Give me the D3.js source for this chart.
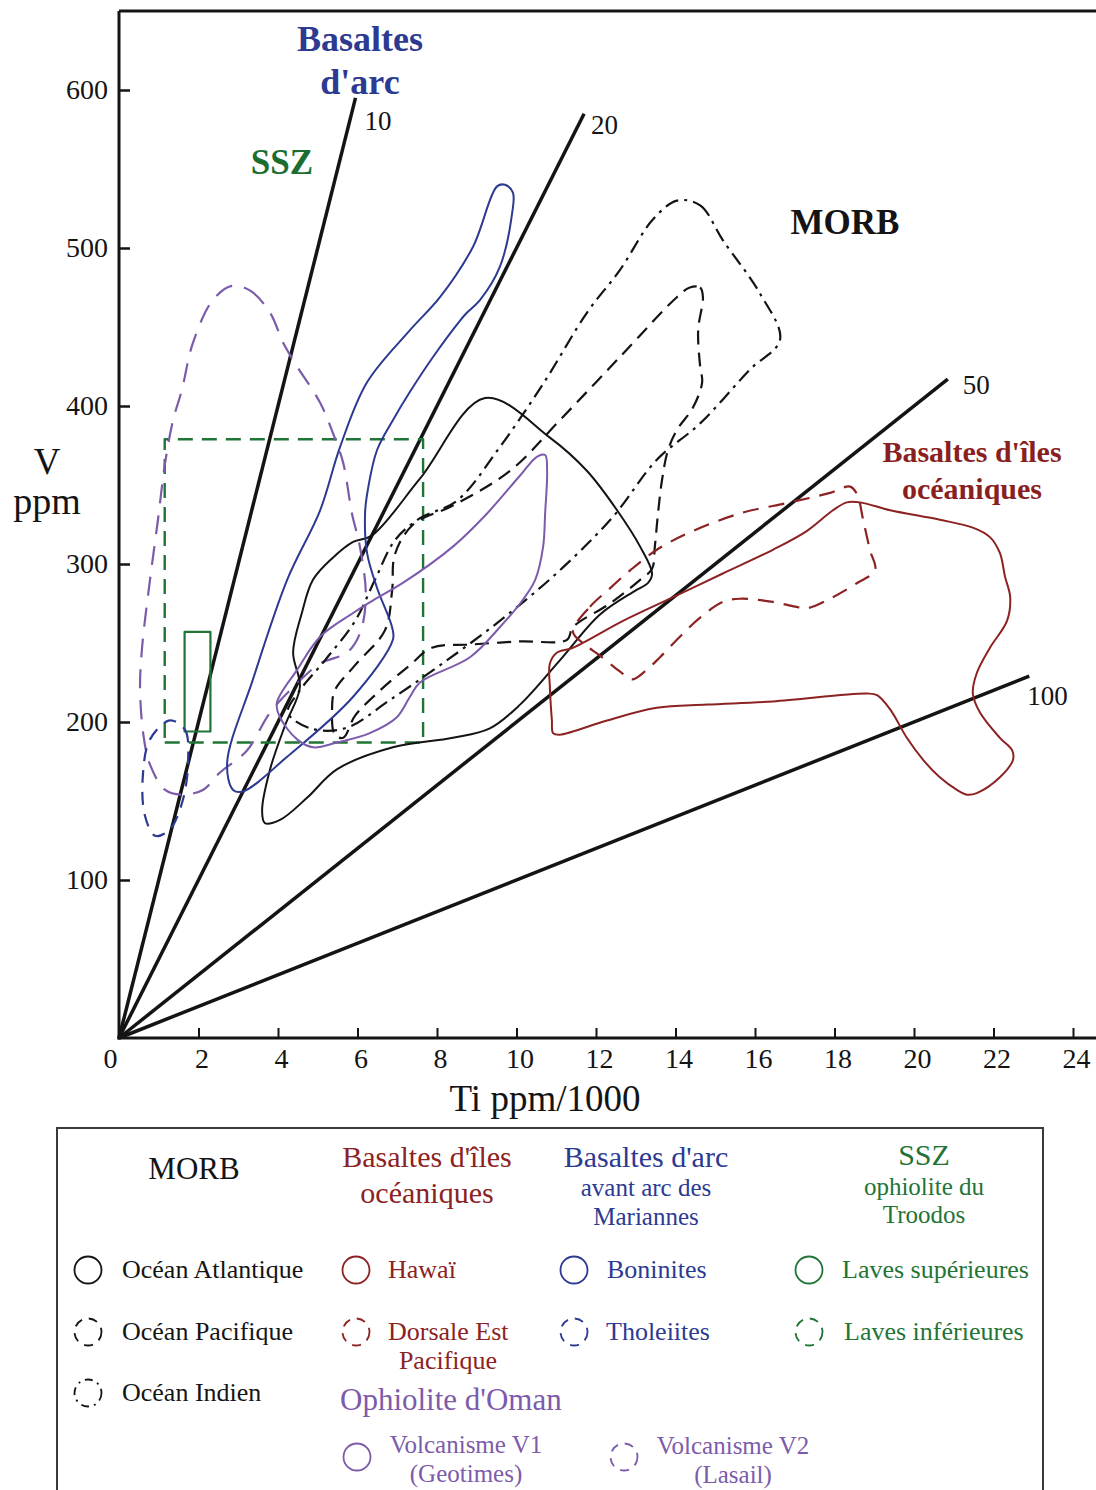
<!DOCTYPE html>
<html>
<head>
<meta charset="utf-8">
<script src="https://cdn.jsdelivr.net/npm/d3@7/dist/d3.min.js"></script>
<style>
html,body{margin:0;padding:0;background:#fff;}
svg{display:block;font-family:"Liberation Serif","DejaVu Serif",serif;}
</style>
</head>
<body>
<svg id="chart" width="1096" height="1490"></svg>
<script>
// ---------- DATA (Ti ppm/1000, V ppm) ----------
const xTicks = [0, 2, 4, 6, 8, 10, 12, 14, 16, 18, 20, 22, 24];
const yTicks = [100, 200, 300, 400, 500, 600];
const ratioValues = [10, 20, 50, 100];          // Ti/V ratio lines
const ratioEndTi  = [5.95, 11.7, 20.85, 22.9];  // Ti where each line stops

const morbAtlantique = [[9.21,405],[10.84,380],[11.77,359],[12.53,334],[13.11,311],[13.41,294],[13.31,288],[12.98,283],[12.10,268],[11.09,239],[10.09,211],[9.33,196],[8.40,190],[6.89,184],[5.48,170],[4.73,152],[4.05,138],[3.67,136],[3.60,144],[3.80,170],[4.18,198],[4.55,222],[4.38,244],[4.60,269],[4.88,290],[5.38,304],[5.89,314],[6.36,318],[7.57,354]];
const morbPacifique = [[14.36,475],[14.62,475],[14.69,469],[14.57,448],[14.62,425],[14.67,415],[14.44,399],[14.04,385],[13.81,372],[13.66,353],[13.56,332],[13.48,311],[13.41,297],[13.11,290],[12.35,275],[11.42,260],[11.27,252],[10.09,251],[8.83,249],[7.87,247],[7.32,236],[6.57,220],[5.94,204],[5.64,190],[5.43,192],[5.36,208],[5.43,220],[5.94,236],[6.69,258],[6.87,283],[6.94,306],[7.40,325],[8.40,337],[9.84,359],[11.09,391],[12.60,431],[14.04,469]];
const morbIndien = [[14.04,530],[14.62,527],[15.19,505],[16.13,471],[16.63,442],[15.87,423],[14.62,389],[13.53,366],[12.43,330],[11.09,296],[9.58,264],[8.08,236],[6.82,214],[5.69,196],[4.81,196],[4.25,206],[4.55,220],[5.18,239],[5.94,264],[6.44,290],[6.94,315],[7.57,329],[8.50,340],[9.58,374],[10.67,414],[11.77,459],[12.60,486],[13.43,518]];
const hawai = [[10.92,193],[11.09,192],[12.28,201],[13.53,209],[14.79,211],[16.45,213],[18.82,218],[19.07,217],[19.40,208],[19.82,190],[20.23,176],[20.65,165],[21.08,157],[21.33,154],[21.58,155],[22.16,165],[22.49,176],[22.47,182],[22.16,190],[21.66,206],[21.48,218],[21.58,231],[21.91,247],[22.34,264],[22.42,279],[22.29,292],[22.16,307],[21.91,317],[21.48,323],[20.65,328],[19.40,334],[18.64,339],[18.31,339],[17.96,334],[17.31,321],[16.45,309],[15.19,294],[13.94,279],[12.68,264],[11.42,247],[11.02,244],[10.84,237],[10.84,222],[10.89,201]];
const dorsaleEstPacifique = [[11.42,257],[11.85,273],[12.28,283],[12.86,296],[13.53,309],[14.36,320],[15.62,332],[16.88,339],[17.89,345],[18.39,349],[18.57,344],[18.72,328],[18.89,309],[19.02,296],[18.57,288],[17.96,279],[17.31,272],[17.01,273],[16.45,276],[15.62,278],[15.19,276],[14.62,266],[14.11,254],[13.61,241],[13.23,232],[12.91,227],[12.60,232],[12.10,242],[11.72,249]];
const boninites = [[9.71,540],[9.91,535],[9.89,522],[9.58,488],[9.08,467],[8.75,459],[8.58,454],[7.90,431],[7.32,409],[6.89,391],[6.49,372],[6.26,347],[6.19,332],[6.24,307],[6.49,285],[6.87,260],[6.89,252],[5.89,216],[4.23,178],[3.12,156],[2.87,157],[2.72,174],[3.37,227],[4.23,290],[5.06,334],[5.56,374],[6.24,415],[7.32,448],[8.08,469],[8.91,501],[9.51,539]];
const tholeiites = [[1.28,201],[1.66,195],[1.74,176],[1.61,151],[1.28,132],[0.91,128],[0.65,141],[0.60,166],[0.78,189]];
const lavesSuperieures = [[1.65,194],[2.30,194],[2.30,257],[1.65,257]];
const lavesInferieures = [[1.15,187],[7.65,187],[7.65,379],[1.15,379]];
const volcanismeV1 = [[3.97,212],[4.48,233],[5.06,254],[5.89,269],[6.39,277],[7.14,288],[8.40,311],[9.26,332],[10.09,356],[10.52,368],[10.72,369],[10.77,359],[10.72,332],[10.67,311],[10.47,290],[10.09,275],[9.58,260],[8.83,241],[7.57,225],[7.32,216],[6.99,203],[6.31,193],[5.48,187],[4.88,184],[4.48,189],[4.05,203]];
const volcanismeV2 = [[2.84,476],[3.30,473],[3.80,459],[4.13,440],[4.43,427],[5.06,402],[5.38,383],[5.64,364],[5.86,332],[6.06,311],[6.21,279],[6.06,256],[5.74,244],[5.06,237],[4.38,222],[3.80,206],[3.22,182],[2.54,168],[2.11,157],[1.58,154],[1.16,157],[0.78,173],[0.63,189],[0.53,220],[0.58,247],[0.78,290],[0.98,328],[1.16,364],[1.36,391],[1.58,410],[1.86,440],[2.36,467]];

// ---------- SETUP ----------
const svg = d3.select("#chart");
const x = d3.scaleLinear().domain([0, 24]).range([119, 1073]);
const y = d3.scaleLinear().domain([0, 600]).range([1038, 90]);

const C = {
  black: "#141414", red: "#8c2222", blue: "#2c3a92", green: "#1f7436", purple: "#7c5bab"
};
const DASH = "14,8", DASHDOT = "14,6,3,6";

// frame
svg.append("line").attr("x1", x(0)).attr("x2", 1096).attr("y1", y(650)).attr("y2", y(650))
  .attr("stroke", C.black).attr("stroke-width", 3);
svg.append("line").attr("x1", x(0)).attr("x2", x(0)).attr("y1", y(650)).attr("y2", y(0) + 1.5)
  .attr("stroke", C.black).attr("stroke-width", 3);
svg.append("line").attr("x1", x(0) - 1.5).attr("x2", 1096).attr("y1", y(0)).attr("y2", y(0))
  .attr("stroke", C.black).attr("stroke-width", 3);

// axes
const gx = svg.append("g").attr("transform", `translate(0,${y(0)})`)
  .call(d3.axisBottom(x).tickValues(xTicks).tickSize(-10).tickPadding(10).tickFormat(d3.format("d")));
gx.select(".domain").remove();
gx.selectAll(".tick line").attr("stroke", C.black).attr("stroke-width", 2)
  .filter(d => d === 0).remove();
gx.selectAll(".tick text").attr("font-size", 28).attr("fill", C.black)
  .attr("font-family", "Liberation Serif")
  .attr("dx", d => d === 0 ? -9 : 3);

const gy = svg.append("g").attr("transform", `translate(${x(0)},0)`)
  .call(d3.axisLeft(y).tickValues(yTicks).tickSize(-11).tickPadding(11).tickFormat(d3.format("d")));
gy.select(".domain").remove();
gy.selectAll(".tick line").attr("stroke", C.black).attr("stroke-width", 2.5);
gy.selectAll(".tick text").attr("font-size", 28).attr("fill", C.black)
  .attr("font-family", "Liberation Serif");

// axis titles
svg.append("text").attr("x", 545).attr("y", 1111).attr("text-anchor", "middle")
  .attr("font-size", 37).attr("fill", C.black).text("Ti ppm/1000");
svg.append("text").attr("x", 47).attr("y", 474).attr("text-anchor", "middle")
  .attr("font-size", 37).attr("fill", C.black).text("V");
svg.append("text").attr("x", 47).attr("y", 514).attr("text-anchor", "middle")
  .attr("font-size", 38).attr("fill", C.black).text("ppm");

// ratio lines
const ratios = ratioValues.map((r, i) => ({ r, ti: ratioEndTi[i] }));
svg.selectAll("line.ratio").data(ratios).enter().append("line").attr("class", "ratio")
  .attr("x1", x(0)).attr("y1", y(0))
  .attr("x2", d => x(d.ti)).attr("y2", d => y(d.ti * 1000 / d.r))
  .attr("stroke", C.black).attr("stroke-width", 3.5).attr("stroke-linecap", "butt");
const ratioLabelOffset = { 10: [9, 32], 20: [7, 20], 50: [15, 15], 100: [-2, 29] };
svg.selectAll("text.ratio").data(ratios).enter().append("text").attr("class", "ratio")
  .attr("x", d => x(d.ti) + ratioLabelOffset[d.r][0])
  .attr("y", d => y(d.ti * 1000 / d.r) + ratioLabelOffset[d.r][1])
  .attr("font-size", 27).attr("fill", C.black).text(d => d.r);

// fields
const smooth = d3.line().x(d => x(d[0])).y(d => y(d[1])).curve(d3.curveCatmullRomClosed.alpha(0.5));
const straight = d3.line().x(d => x(d[0])).y(d => y(d[1])).curve(d3.curveLinearClosed);

const fields = [
  { data: lavesInferieures, color: C.green, dash: "15,9", w: 2.4, gen: straight },
  { data: lavesSuperieures, color: C.green, dash: null, w: 2.2, gen: straight },
  { data: volcanismeV2, color: C.purple, dash: "19,12", w: 2.2, gen: smooth },
  { data: tholeiites, color: C.blue, dash: "13,9", w: 2.2, gen: smooth },
  { data: morbIndien, color: C.black, dash: DASHDOT, w: 2.2, gen: smooth },
  { data: morbPacifique, color: C.black, dash: DASH, w: 2.2, gen: smooth },
  { data: morbAtlantique, color: C.black, dash: null, w: 2, gen: smooth },
  { data: dorsaleEstPacifique, color: C.red, dash: "16,10", w: 2.2, gen: smooth },
  { data: hawai, color: C.red, dash: null, w: 2, gen: smooth },
  { data: boninites, color: C.blue, dash: null, w: 2, gen: smooth },
  { data: volcanismeV1, color: C.purple, dash: null, w: 2, gen: smooth }
];
svg.selectAll("path.field").data(fields).enter().append("path").attr("class", "field")
  .attr("d", d => d.gen(d.data)).attr("fill", "none")
  .attr("stroke", d => d.color).attr("stroke-width", d => d.w)
  .attr("stroke-dasharray", d => d.dash).attr("stroke-linejoin", "round");

// field labels
function label(t, px, py, size, color, weight) {
  svg.append("text").attr("x", px).attr("y", py).attr("text-anchor", "middle")
    .attr("font-size", size).attr("font-weight", weight || "bold").attr("fill", color).text(t);
}
label("Basaltes", 360, 51, 36, C.blue);
label("d'arc", 360, 94, 36, C.blue);
label("SSZ", 282, 174, 35, "#1b6e30");
label("MORB", 845, 234, 35, C.black);
label("Basaltes d'îles", 972, 462, 30, "#8a1f1f");
label("océaniques", 972, 499, 30, "#8a1f1f");

// ---------- LEGEND ----------
svg.append("rect").attr("x", 57).attr("y", 1128).attr("width", 986).attr("height", 380)
  .attr("fill", "none").attr("stroke", "#3a3a3a").attr("stroke-width", 2);

function ltext(t, px, py, size, color, anchor) {
  svg.append("text").attr("x", px).attr("y", py).attr("text-anchor", anchor || "start")
    .attr("font-size", size).attr("fill", color).text(t);
}
function lcircle(cx, cy, color, dash) {
  svg.append("circle").attr("cx", cx).attr("cy", cy).attr("r", 13.5).attr("fill", "none")
    .attr("stroke", color).attr("stroke-width", 1.8).attr("stroke-dasharray", dash);
}
ltext("MORB", 194, 1179, 31, C.black, "middle");
ltext("Basaltes d'îles", 427, 1167, 30, C.red, "middle");
ltext("océaniques", 427, 1203, 30, C.red, "middle");
ltext("Basaltes d'arc", 646, 1167, 30, C.blue, "middle");
ltext("avant arc des", 646, 1196, 25, C.blue, "middle");
ltext("Mariannes", 646, 1225, 25, C.blue, "middle");
ltext("SSZ", 924, 1165, 30, C.green, "middle");
ltext("ophiolite du", 924, 1195, 25, C.green, "middle");
ltext("Troodos", 924, 1223, 25, C.green, "middle");

const LDASH = "9,7", LDASHDOT = "8,5,2,5";
lcircle(88, 1270, C.black, null);   ltext("Océan Atlantique", 122, 1278, 26, C.black);
lcircle(356, 1270, C.red, null);    ltext("Hawaï", 388, 1278, 26, C.red);
lcircle(574, 1270, C.blue, null);   ltext("Boninites", 607, 1278, 26, C.blue);
lcircle(809, 1270, C.green, null);  ltext("Laves supérieures", 842, 1278, 26, C.green);

lcircle(88, 1332, C.black, LDASH);  ltext("Océan Pacifique", 122, 1340, 26, C.black);
lcircle(356, 1332, C.red, LDASH);   ltext("Dorsale Est", 388, 1340, 26, C.red);
ltext("Pacifique", 448, 1369, 26, C.red, "middle");
lcircle(574, 1332, C.blue, LDASH);  ltext("Tholeiites", 606, 1340, 26, C.blue);
lcircle(809, 1332, C.green, LDASH); ltext("Laves inférieures", 844, 1340, 26, C.green);

lcircle(88, 1393, C.black, LDASHDOT); ltext("Océan Indien", 122, 1401, 26, C.black);
ltext("Ophiolite d'Oman", 340, 1410, 31, C.purple);

lcircle(357, 1457, C.purple, null);
ltext("Volcanisme V1", 466, 1453, 25, C.purple, "middle");
ltext("(Geotimes)", 466, 1482, 25, C.purple, "middle");
lcircle(624, 1457, C.purple, LDASH);
ltext("Volcanisme V2", 733, 1454, 25, C.purple, "middle");
ltext("(Lasail)", 733, 1483, 25, C.purple, "middle");
</script>
</body>
</html>
